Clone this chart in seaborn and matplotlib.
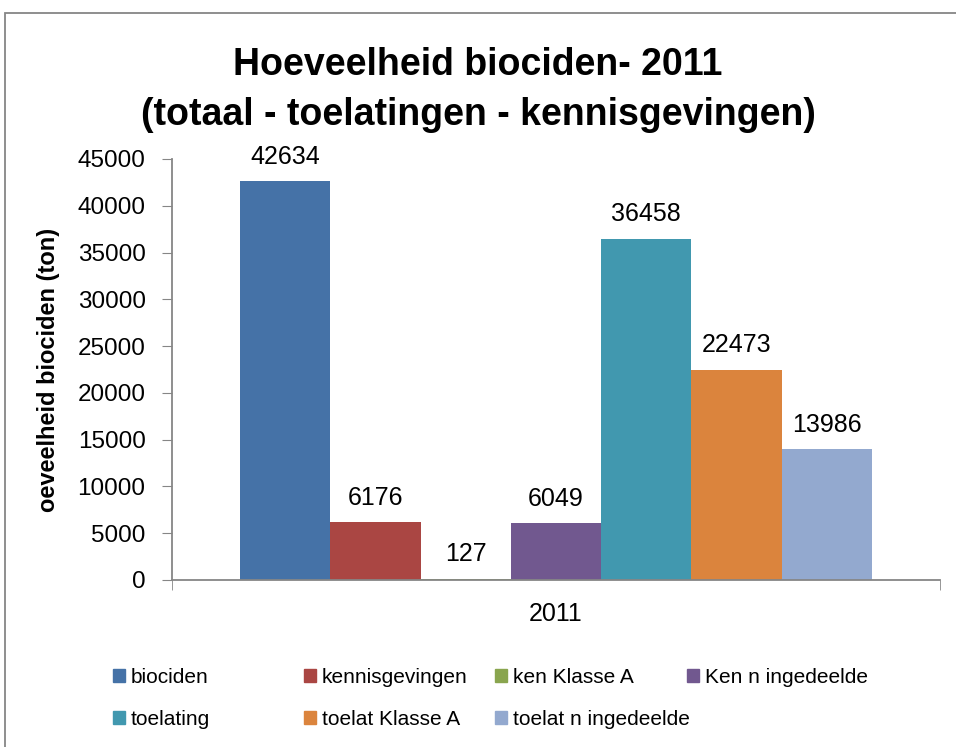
import pandas as pd
import matplotlib.pyplot as plt
import matplotlib.patches as mpatches
import seaborn as sns

# Data
years = ["2011"] * 7
series = ["biociden", "kennisgevingen", "ken Klasse A", "Ken n ingedeelde",
          "toelating", "toelat Klasse A", "toelat n ingedeelde"]
values = [42634, 6176, 127, 6049, 36458, 22473, 13986]
colors = ["#4572A7", "#AA4643", "#89A54E", "#71588F",
          "#4198AF", "#DB843D", "#93A9CF"]

df = pd.DataFrame({"jaar": years, "reeks": series, "waarde": values})

sns.set_style("white")
plt.rcParams['font.family'] = ['Liberation Sans', 'DejaVu Sans']
plt.rcParams['text.color'] = 'black'
plt.rcParams['axes.labelcolor'] = 'black'

fig = plt.figure(figsize=(9.56, 7.47), dpi=100)
ax = fig.add_axes([0.1799, 0.2236, 0.8033, 0.5636])

sns.barplot(data=df, x="jaar", y="waarde", hue="reeks", palette=colors,
            width=0.823, saturation=1, linewidth=0, ax=ax, legend=False)

# Data labels
for cont in ax.containers:
    ax.bar_label(cont, fmt="%d", padding=9, fontsize=18, color='black')

ax.set_ylim(0, 45000)
ax.set_xlim(-0.5, 0.5)
ax.set_yticks(range(0, 45001, 5000))
ax.tick_params(axis='y', labelsize=17.5, length=7, color='#868686', labelcolor='black',
               pad=12, left=True)
ax.tick_params(axis='x', labelsize=18, length=0, pad=16, labelcolor='black')
ax.set_xticks([-0.5, 0.5], minor=True)
ax.tick_params(axis='x', which='minor', length=7, color='#868686', bottom=True)
ax.set_xlabel("")
ax.set_ylabel("oeveelheid biociden (ton)", fontsize=17, fontweight='bold')
ax.yaxis.set_label_coords(-0.146, 0.5)

for side in ['top', 'right']:
    ax.spines[side].set_visible(False)
for side in ['left', 'bottom']:
    ax.spines[side].set_color('#868686')
    ax.spines[side].set_linewidth(1.3)

fig.suptitle("Hoeveelheid biociden- 2011\n(totaal - toelatingen - kennisgevingen)",
             fontsize=27, fontweight='bold', y=0.937, linespacing=1.5)

# Legend: four equal-width columns
handles = [mpatches.Patch(color=c, label=s) for c, s in zip(colors, series)]
col_x = [0.1098, 0.3096, 0.5094, 0.7103]
for i in range(4):
    fig.legend(handles=handles[i::4], loc='upper left',
               bbox_to_anchor=(col_x[i], 0.117), frameon=False,
               fontsize=15, handlelength=0.58, handleheight=0.58,
               handletextpad=0.25, labelspacing=1.12, borderaxespad=0)

# Outer chart border
fig.patches.append(mpatches.Rectangle((5 / 956, -0.1), 2, 1.1 - 12.5 / 747,
                                      transform=fig.transFigure, fill=False,
                                      edgecolor='#868686', linewidth=1.3))

fig.savefig("out.png", dpi=100)
